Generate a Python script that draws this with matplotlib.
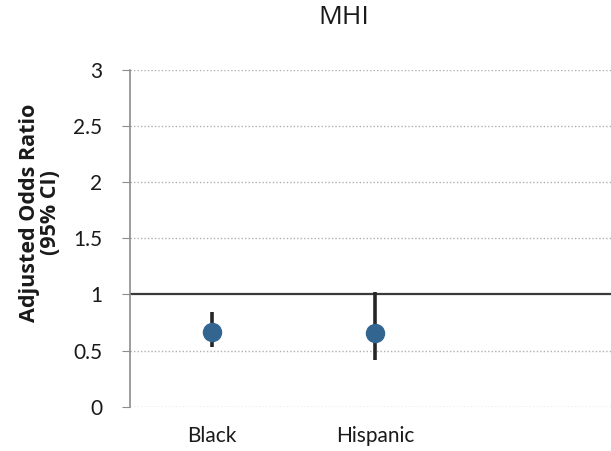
import matplotlib
matplotlib.use("Agg")
import matplotlib.pyplot as plt

categories = ["Black", "Hispanic"]
aor = [0.665, 0.656]
ci_low = [0.53, 0.42]
ci_high = [0.84, 1.02]
yticks = [0, 0.5, 1, 1.5, 2, 2.5, 3]
ytick_labels = ["0", "0.5", "1", "1.5", "2", "2.5", "3"]

W, H = 611, 451
fig = plt.figure(figsize=(W / 100, H / 100), dpi=100)
ax = fig.add_axes([130 / W, 1 - 406.7 / H, (W - 130) / W, (406.7 - 70) / H])

x = list(range(len(categories)))
ax.set_xlim(-0.5, 2.445)
ax.set_ylim(0, 3)

for yv in yticks:
    if yv != 1:
        ax.axhline(yv, color="#b0b0b0", linestyle=(0, (1, 1.5)), linewidth=1.0, zorder=0)
ax.axhline(1, color="#3a3a3a", linewidth=1.6, zorder=1)

lower = [a - l for a, l in zip(aor, ci_low)]
upper = [h - a for a, h in zip(aor, ci_high)]
ax.errorbar(x, aor, yerr=[lower, upper], fmt="none", ecolor="#262626",
            elinewidth=2.6, capsize=0, zorder=2)
ax.plot(x, aor, "o", color="#336591", markersize=13, zorder=3)

for s in ["top", "right", "bottom"]:
    ax.spines[s].set_visible(False)
ax.spines["left"].set_color("#8c8c8c")
ax.spines["left"].set_linewidth(1.2)

ax.set_yticks(yticks)
ax.set_yticklabels(ytick_labels, fontsize=15, fontfamily="Lato", color="#1a1a1a")
ax.tick_params(axis="y", length=6, color="#8c8c8c", pad=14)
ax.set_xticks(x)
ax.set_xticklabels(categories, fontsize=15, fontfamily="Lato", color="#1a1a1a")
ax.tick_params(axis="x", length=0, pad=14)

fig.text(40 / W, 1 - 213 / H, "Adjusted Odds Ratio\n(95% CI)", rotation=90,
         ha="center", va="center", fontsize=15.5, fontweight="bold",
         fontfamily="Open Sans", color="#1a1a1a", linespacing=1.0)
fig.text(344 / W, 1 - 18 / H, "MHI", ha="center", va="center", fontsize=19,
         fontfamily="Open Sans", color="#1a1a1a")

fig.savefig("out.png", dpi=100)
